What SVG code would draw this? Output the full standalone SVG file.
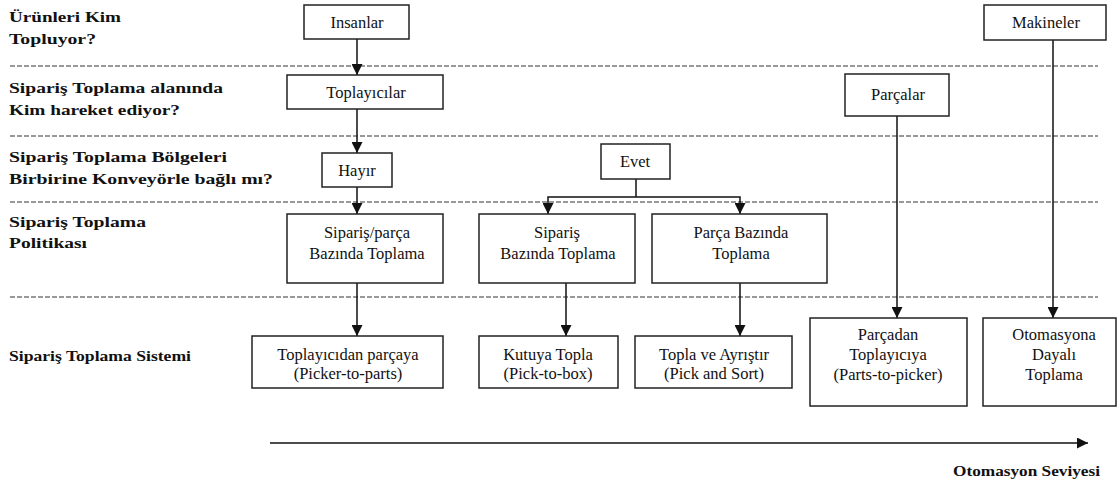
<svg xmlns="http://www.w3.org/2000/svg" width="1119" height="486" viewBox="0 0 1119 486">
<style>
.bg{fill:#fff}
.box{fill:#fff;stroke:#222;stroke-width:1.5}
.t{font-size:16.5px;fill:#111;text-anchor:middle}
.lab{font-size:15.5px;font-weight:bold;fill:#111}
.dash{stroke:#333;stroke-width:1;stroke-dasharray:5 2;fill:none}
.c{stroke:#111;stroke-width:1.5;fill:none}
.ca{stroke:#111;stroke-width:1.5;fill:none;marker-end:url(#ah)}
</style>
<defs>
<marker id="ah" markerUnits="userSpaceOnUse" viewBox="0 0 10 10" refX="10" refY="5" markerWidth="11" markerHeight="11" orient="auto">
<path d="M0,0 L10,5 L0,10 z" fill="#111"/>
</marker>
</defs>
<rect class="bg" x="0" y="0" width="1119" height="486"/>

<g id="separators">
<line class="dash" x1="10" y1="66" x2="1098" y2="66"/>
<line class="dash" x1="10" y1="136" x2="1098" y2="136"/>
<line class="dash" x1="10" y1="202" x2="1098" y2="202"/>
<line class="dash" x1="10" y1="297" x2="1098" y2="297"/>
</g>

<g id="row-labels" font-family="Liberation Serif, DejaVu Serif, serif">
<text class="lab" x="9" y="22" textLength="112" lengthAdjust="spacingAndGlyphs">Ürünleri Kim</text>
<text class="lab" x="9" y="44" textLength="87" lengthAdjust="spacingAndGlyphs">Topluyor?</text>
<text class="lab" x="9" y="93" textLength="214" lengthAdjust="spacingAndGlyphs">Sipariş Toplama alanında</text>
<text class="lab" x="9" y="115" textLength="171" lengthAdjust="spacingAndGlyphs">Kim hareket ediyor?</text>
<text class="lab" x="9" y="162" textLength="218" lengthAdjust="spacingAndGlyphs">Sipariş Toplama Bölgeleri</text>
<text class="lab" x="9" y="184" textLength="264" lengthAdjust="spacingAndGlyphs">Birbirine Konveyörle bağlı mı?</text>
<text class="lab" x="9" y="227" textLength="137" lengthAdjust="spacingAndGlyphs">Sipariş Toplama</text>
<text class="lab" x="9" y="248" textLength="78" lengthAdjust="spacingAndGlyphs">Politikası</text>
<text class="lab" x="9" y="361" textLength="182" lengthAdjust="spacingAndGlyphs">Sipariş Toplama Sistemi</text>
</g>

<g id="connectors">
<line class="ca" x1="357" y1="39" x2="357" y2="75"/>
<line class="ca" x1="357" y1="109" x2="357" y2="153"/>
<line class="ca" x1="357" y1="187" x2="357" y2="214"/>
<line class="ca" x1="357" y1="266" x2="357" y2="336"/>
<polyline class="c" points="636,179 636,197"/>
<polyline class="ca" points="636,197 548,197 548,214"/>
<polyline class="ca" points="636,197 740,197 740,214"/>
<line class="ca" x1="566" y1="266" x2="566" y2="336"/>
<line class="ca" x1="740" y1="266" x2="740" y2="336"/>
<line class="ca" x1="897" y1="110" x2="897" y2="318"/>
<line class="ca" x1="1053" y1="40" x2="1053" y2="318"/>
<line class="ca" x1="270" y1="443" x2="1088" y2="443"/>
</g>

<g id="nodes" font-family="Liberation Serif, DejaVu Serif, serif">
<g id="node-insanlar">
<rect class="box" x="304" y="5" width="105" height="34"/>
<text class="t" x="357" y="28">Insanlar</text>
</g>
<g id="node-makineler">
<rect class="box" x="984" y="5" width="122" height="35"/>
<text class="t" x="1046" y="28">Makineler</text>
</g>
<g id="node-toplayicilar">
<rect class="box" x="287" y="75" width="156" height="34"/>
<text class="t" x="366" y="98">Toplayıcılar</text>
</g>
<g id="node-parcalar">
<rect class="box" x="845" y="74" width="104" height="42"/>
<text class="t" x="898" y="100">Parçalar</text>
</g>
<g id="node-hayir">
<rect class="box" x="322" y="153" width="70" height="34"/>
<text class="t" x="357" y="176">Hayır</text>
</g>
<g id="node-evet">
<rect class="box" x="601" y="144" width="69" height="35"/>
<text class="t" x="635" y="167">Evet</text>
</g>
<g id="node-siparis-parca">
<rect class="box" x="287" y="214" width="156" height="69"/>
<text class="t" x="367" y="238">Sipariş/parça</text>
<text class="t" x="367" y="259">Bazında Toplama</text>
</g>
<g id="node-siparis-bazinda">
<rect class="box" x="479" y="214" width="156" height="69"/>
<text class="t" x="557" y="238">Sipariş</text>
<text class="t" x="558" y="259">Bazında Toplama</text>
</g>
<g id="node-parca-bazinda">
<rect class="box" x="652" y="214" width="175" height="69"/>
<text class="t" x="741" y="238">Parça Bazında</text>
<text class="t" x="741" y="259">Toplama</text>
</g>
<g id="node-picker-to-parts">
<rect class="box" x="252" y="336" width="191" height="52"/>
<text class="t" x="348" y="360">Toplayıcıdan parçaya</text>
<text class="t" x="348" y="379">(Picker-to-parts)</text>
</g>
<g id="node-pick-to-box">
<rect class="box" x="479" y="336" width="139" height="52"/>
<text class="t" x="548" y="360">Kutuya Topla</text>
<text class="t" x="548" y="379">(Pick-to-box)</text>
</g>
<g id="node-pick-and-sort">
<rect class="box" x="635" y="336" width="157" height="52"/>
<text class="t" x="714" y="360">Topla ve Ayrıştır</text>
<text class="t" x="714" y="379">(Pick and Sort)</text>
</g>
<g id="node-parts-to-picker">
<rect class="box" x="810" y="318" width="157" height="88"/>
<text class="t" x="888" y="340">Parçadan</text>
<text class="t" x="888" y="360">Toplayıcıya</text>
<text class="t" x="888" y="380">(Parts-to-picker)</text>
</g>
<g id="node-otomasyon">
<rect class="box" x="983" y="318" width="133" height="88"/>
<text class="t" x="1054" y="340">Otomasyona</text>
<text class="t" x="1054" y="360">Dayalı</text>
<text class="t" x="1054" y="380">Toplama</text>
</g>
</g>

<g id="axis-label" font-family="Liberation Serif, DejaVu Serif, serif">
<text class="lab" x="953" y="476" textLength="147" lengthAdjust="spacingAndGlyphs" style="font-size:14.5px">Otomasyon Seviyesi</text>
</g>
</svg>
